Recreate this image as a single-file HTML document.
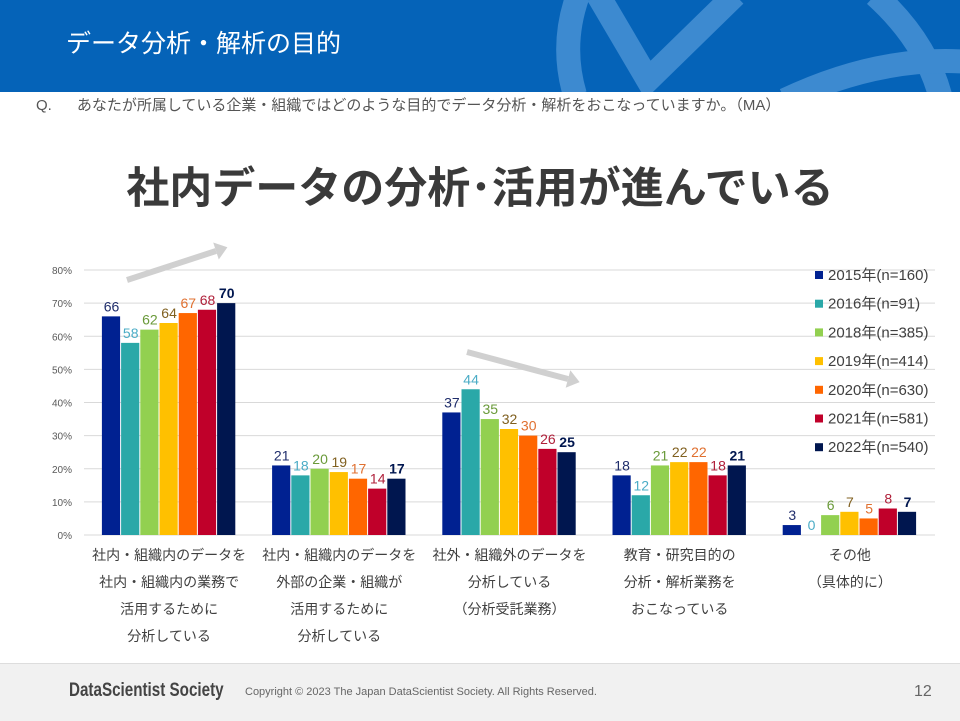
<!DOCTYPE html>
<html><head><meta charset="utf-8"><style>
body{margin:0;width:960px;height:720px;overflow:hidden;background:#fff;font-family:"Liberation Sans","Noto Sans CJK JP",sans-serif;position:relative}
.hdr{position:absolute;left:0;top:0;width:960px;height:92px;background:#0563b8;overflow:hidden}
.hdr .t{position:absolute;left:66px;top:24px;color:#fff;font-size:25px}
.q{position:absolute;left:36px;top:94px;font-size:15px;color:#555}
.title{position:absolute;left:0;width:960px;top:154px;text-align:center;font-size:43px;font-weight:bold;color:#3a3a3a}
.ftr{position:absolute;left:0;top:663px;width:960px;height:57px;background:#f1f1f1;border-top:1px solid #ddd}
</style></head><body>
<div class="hdr">
<svg width="960" height="92" style="position:absolute;left:0;top:0">
<g stroke="#3d8ad0" stroke-width="24" fill="none">
<path d="M578 -5 Q560 45 575 95"/>
<path d="M598 -5 L648 80 L735 -5"/>
<path d="M875 -5 Q925 40 940 95"/>
<path d="M785 100 Q880 55 970 62"/>
</g>
</svg>
<div class="t">データ分析・解析の目的</div></div>
<div class="q">Q.&nbsp;&nbsp;&nbsp;&nbsp;&nbsp;&nbsp;あなたが所属している企業・組織ではどのような目的でデータ分析・解析をおこなっていますか。（MA）</div>
<div class="title">社内データの分析･活用が進んでいる</div>
<svg id="chart" width="960" height="720" style="position:absolute;left:0;top:0"></svg>
<div class="ftr">
<div style="position:absolute;left:69px;top:16px;font-size:19px;font-weight:bold;color:#444;transform:scaleX(0.8);transform-origin:left">DataScientist Society</div>
<div style="position:absolute;left:245px;top:22px;font-size:11px;color:#666">Copyright © 2023 The Japan DataScientist Society. All Rights Reserved.</div>
<div style="position:absolute;left:914px;top:19px;font-size:16px;color:#666">12</div>
</div>
<script>
const categories=[["社内・組織内のデータを","社内・組織内の業務で","活用するために","分析している"],["社内・組織内のデータを","外部の企業・組織が","活用するために","分析している"],["社外・組織外のデータを","分析している","（分析受託業務）"],["教育・研究目的の","分析・解析業務を","おこなっている"],["その他","（具体的に）"]];
const seriesNames=["2015年(n=160)","2016年(n=91)","2018年(n=385)","2019年(n=414)","2020年(n=630)","2021年(n=581)","2022年(n=540)"];
const s2015=[66,21,37,18,3];
const s2016=[58,18,44,12,0];
const s2018=[62,20,35,21,6];
const s2019=[64,19,32,22,7];
const s2020=[67,17,30,22,5];
const s2021=[68,14,26,18,8];
const s2022=[70,17,25,21,7];
const yTicks=[0,10,20,30,40,50,60,70,80];
const series=[s2015,s2016,s2018,s2019,s2020,s2021,s2022];
const colors=["#002191","#2aa8a8","#92d050","#ffc000","#ff6600","#c0002a","#00164f"];
const labelColors=["#1f2d6b","#4bacc6","#6a9a3a","#806020","#e07030","#b0203a","#00164f"];
const svg=document.getElementById('chart');const NS="http://www.w3.org/2000/svg";
const X0=84,X1=935,Y0=535,Y80=270;
const y=v=>Y0-(Y0-Y80)*v/80;
const gw=(X1-X0)/categories.length,bw=19.2;
const gx=i=>X0+gw*(i+0.5);
function mk(t,a,txt){const e=document.createElementNS(NS,t);for(const k in a)e.setAttribute(k,a[k]);if(txt!==undefined)e.textContent=txt;svg.appendChild(e);return e;}
yTicks.forEach(t=>{
const l=mk('line',{x1:X0,x2:X1,y1:y(t),y2:y(t),stroke:'#d9d9d9','stroke-width':1});


const tx=mk('text',{x:72,y:y(t)+4,'text-anchor':'end','font-size':10,fill:'#595959'},t+'%');


});
series.forEach((s,j)=>{s.forEach((v,i)=>{
const x=gx(i)-bw*3.5+bw*j;
const r=mk('rect',{x:x,y:y(v),width:bw-1,height:Y0-y(v),fill:colors[j]});


const t=mk('text',{x:x+bw/2,y:y(v)-5,'text-anchor':'middle','font-size':14,'font-weight':j==6?'bold':'normal',fill:labelColors[j]},v);


});});
categories.forEach((c,i)=>{c.forEach((ln,k)=>{
const t=mk('text',{x:gx(i),y:560+k*27,'text-anchor':'middle','font-size':14,fill:'#404040'},ln);


});});
seriesNames.forEach((n,j)=>{
const yy=275+j*28.7;
const r=mk('rect',{x:815,y:yy-4,width:8,height:8,fill:colors[j]});


const t=mk('text',{x:828,y:yy+5,'font-size':15,fill:'#404040'},n);


});
[[127,280,216,251],[467,352,568,379]].forEach(a=>{
const l=mk('line',{x1:a[0],y1:a[1],x2:a[2],y2:a[3],stroke:'#d0d0d0','stroke-width':6});


const dx=a[2]-a[0],dy=a[3]-a[1],L=Math.hypot(dx,dy),ux=dx/L,uy=dy/L;
const tip=[a[2]+ux*12,a[3]+uy*12];
const p=mk('polygon',{points:`${tip[0]},${tip[1]} ${a[2]-uy*9},${a[3]+ux*9} ${a[2]+uy*9},${a[3]-ux*9}`,fill:'#d0d0d0'});


});
</script>
</body></html>
